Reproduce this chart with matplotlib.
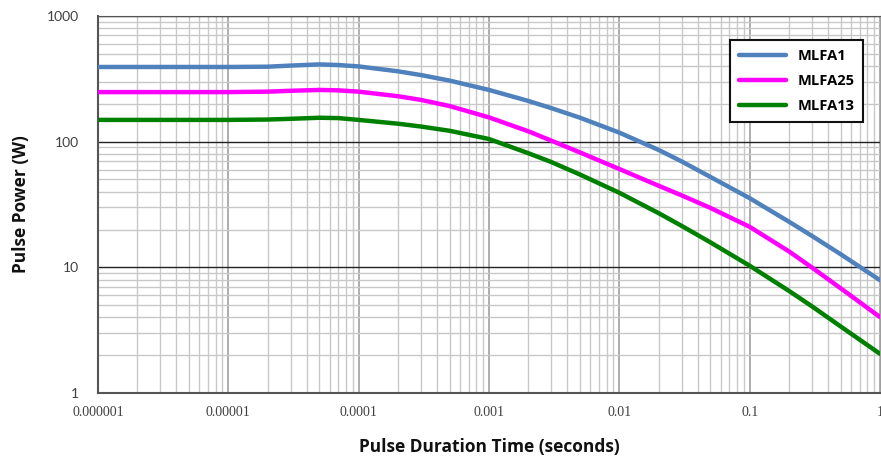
import matplotlib
matplotlib.use("Agg")
import matplotlib.pyplot as plt
from matplotlib.ticker import LogLocator, FixedFormatter, FixedLocator, NullFormatter

# pulse duration (s) and pulse power (W)
duration = [1e-6, 1e-5, 2e-5, 3e-5, 5e-5, 7e-5, 1e-4, 2e-4, 3e-4, 5e-4, 1e-3, 2e-3, 3e-3, 5e-3,
            1e-2, 2e-2, 3e-2, 5e-2, 1e-1, 2e-1, 3e-1, 5e-1, 1.0]
mlfa1 = [393, 393, 395, 403, 412, 407, 397, 363, 339, 306, 258, 211, 185, 155,
         118, 86, 69.7, 52.4, 35.5, 23.1, 17.8, 12.7, 7.9]
mlfa25 = [248, 248, 250, 254, 258, 256, 250, 230, 215, 192, 156, 121, 102, 82,
          60.6, 44.6, 37.4, 29.7, 21.0, 13.4, 9.98, 6.8, 4.02]
mlfa13 = [149, 149, 150, 152, 155, 154, 149, 139, 132, 122, 105, 81, 68.9, 54.7,
          39.2, 27.0, 21.4, 15.8, 10.3, 6.5, 4.9, 3.38, 2.05]

series = [("MLFA1", mlfa1, "#4F81BD"), ("MLFA25", mlfa25, "#FF00FF"), ("MLFA13", mlfa13, "#008000")]
xticks = [1e-6, 1e-5, 1e-4, 1e-3, 1e-2, 1e-1, 1]
xlabels = ["0.000001", "0.00001", "0.0001", "0.001", "0.01", "0.1", "1"]
yticks = [1, 10, 100, 1000]
ylabels = ["1", "10", "100", "1000"]

fig = plt.figure(figsize=(8.81, 4.58), dpi=100)
ax = fig.add_axes([98/881, 65/458, 782/881, 377/458])
ax.set_xscale("log"); ax.set_yscale("log")
ax.set_xlim(1e-6, 1); ax.set_ylim(1, 1000)

for name, vals, col in series:
    ax.plot(duration, vals, color=col, lw=3.2, label=name, solid_capstyle="round",
            solid_joinstyle="round", zorder=3)

# grid: minor light grey, vertical majors mid grey, horizontal majors black
ax.xaxis.set_minor_locator(LogLocator(base=10, subs=range(2, 10), numticks=20))
ax.yaxis.set_minor_locator(LogLocator(base=10, subs=range(2, 10), numticks=20))
ax.xaxis.set_minor_formatter(NullFormatter()); ax.yaxis.set_minor_formatter(NullFormatter())
ax.grid(which="minor", axis="both", color="#c8c8c8", lw=1.0, zorder=1)
ax.grid(which="major", axis="x", color="#a0a0a0", lw=1.2, zorder=1)
ax.grid(which="major", axis="y", color="#222222", lw=1.0, zorder=2)

ax.xaxis.set_major_locator(FixedLocator(xticks)); ax.xaxis.set_major_formatter(FixedFormatter(xlabels))
ax.yaxis.set_major_locator(FixedLocator(yticks)); ax.yaxis.set_major_formatter(FixedFormatter(ylabels))
ax.tick_params(which="both", length=0)
ax.tick_params(axis="x", pad=9, labelsize=10, labelcolor="#404040")
ax.tick_params(axis="y", pad=14, labelsize=10, labelcolor="#404040")
for lab in ax.get_xticklabels():
    lab.set_family("Liberation Serif")
for lab in ax.get_yticklabels():
    lab.set_family("Lato")

for s in ["left", "bottom"]:
    ax.spines[s].set_color("#555555"); ax.spines[s].set_linewidth(1.5)
ax.spines["top"].set_color("#555555")
ax.spines["right"].set_color("#a0a0a0")

ax.set_xlabel("Pulse Duration Time (seconds)", fontsize=12.5, fontweight="bold",
              family="Open Sans", labelpad=14, color="#111111")
ax.set_ylabel("Pulse Power (W)", fontsize=12.5, fontweight="bold",
              family="Open Sans", labelpad=12, color="#111111")

leg = ax.legend(loc="upper right", bbox_to_anchor=(0.988, 0.955), fancybox=False,
                framealpha=1, edgecolor="#111111", handlelength=3.2, labelspacing=0.75,
                borderpad=0.6, prop={"family": "Open Sans", "weight": "bold", "size": 10.5})
leg.get_frame().set_linewidth(1.5)
leg.set_zorder(5)

fig.savefig("out.png", dpi=100)
